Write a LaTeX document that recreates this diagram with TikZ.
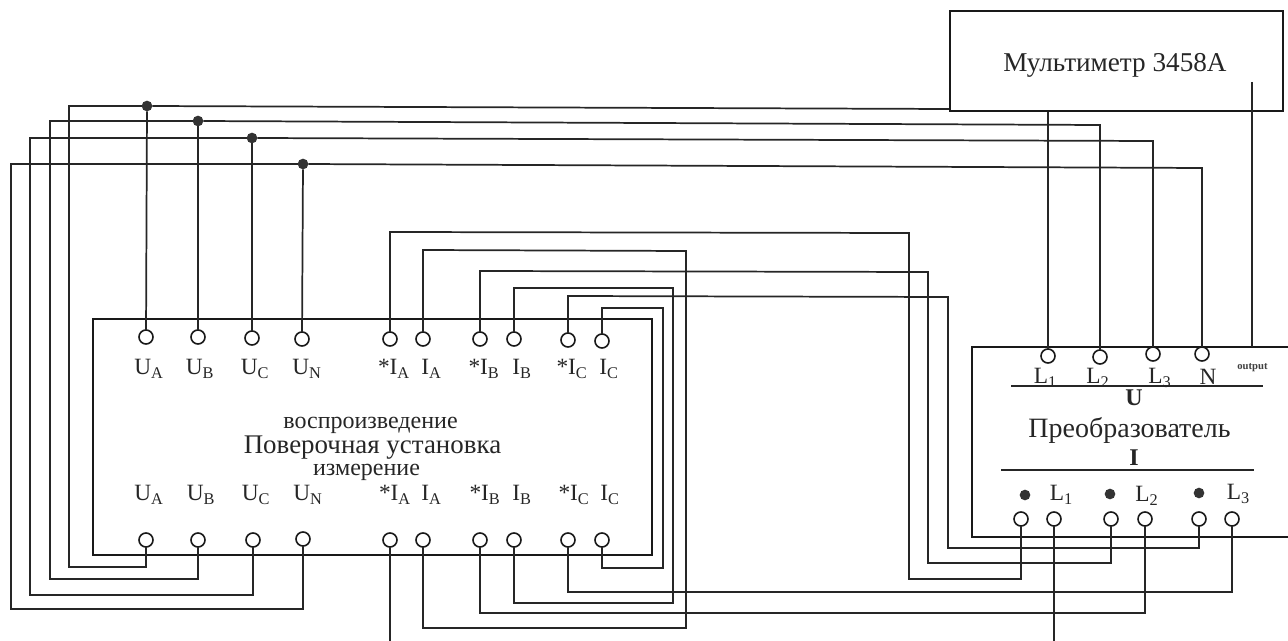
\documentclass[tikz,border=0pt]{standalone}
\usepackage{fontspec}
\setmainfont{Liberation Serif}
\tikzset{
  wire/.style={line width=1.3pt,draw=black!85},
  box/.style={line width=1.7pt,draw=black!90},
  term/.style={circle,draw=black!90,line width=1.2pt,minimum size=10.5pt,inner sep=0pt,outer sep=0pt,fill=white},
  dotj/.style={circle,fill=black!80,minimum size=8pt,inner sep=0pt,outer sep=0pt},
  lab/.style={inner sep=0pt,font=\fontsize{17.5}{19}\selectfont,text=black!85},
}
\newcommand{\Sb}[2]{#1\textsubscript{#2}}
\begin{document}
\begin{tikzpicture}[x=0.75pt,y=-0.75pt]
\useasboundingbox (0,0) rectangle (1288,641);
% boxes
\node[box,draw,minimum width=249.75pt,minimum height=75pt,inner sep=0pt] (mm) at (1116.5,61) {};
\node[lab,font=\fontsize{20.4}{22}\selectfont] (mmt) at (1115,65) {Мультиметр 3458A};
\node[box,draw,minimum width=419pt,minimum height=177.5pt,inner sep=0pt] (main) at (372.5,437) {};
% main terminals top
\foreach \n/\x/\y in {tUA/146/337,tUB/198/337,tUC/252/338,tUN/302/339,tSA/390/339,tIA/423/339,tSB/480/339,tIB/514/339,tSC/568/340,tIC/602/341}
  \node[term] (\n) at (\x,\y) {};
\foreach \n/\x/\y in {bUA/146/540,bUB/198/540,bUC/253/540,bUN/303/539,bSA/390/540,bIA/423/540,bSB/480/540,bIB/514/540,bSC/568/540,bIC/602/540}
  \node[term] (\n) at (\x,\y) {};
% labels
\foreach \n/\x/\t/\s in {lUA/149/U/A,lUB/200/U/B,lUC/255/U/C,lUN/307/U/N,lSA/394/*I/A,lIA/431.5/I/A,lSB/484/*I/B,lIB/522/I/B,lSC/572/*I/C,lIC/609/I/C}
  \node[lab] (\n) at (\x,369) {\Sb{\t}{\s}};
\foreach \n/\x/\t/\s in {mUA/149/U/A,mUB/201/U/B,mUC/256/U/C,mUN/308/U/N,mSA/395/*I/A,mIA/431.5/I/A,mSB/485/*I/B,mIB/522/I/B,mSC/574/*I/C,mIC/610/I/C}
  \node[lab] (\n) at (\x,495) {\Sb{\t}{\s}};
\node[lab,font=\fontsize{18}{20}\selectfont] (t1) at (370.5,425) {воспроизведение};
\node[lab,font=\fontsize{20.2}{22}\selectfont] (t2) at (372.5,448) {Поверочная установка};
\node[lab,font=\fontsize{18}{20}\selectfont] (t3) at (366.5,472) {измерение};
% transducer
\path[box] (1288,347) -- (972,347) -- (972,537) -- (1288,537);
\foreach \n/\x/\y in {pL1/1048/356,pL2/1100/357,pL3/1153/354,pN/1202/354,
  qA/1021/519,qB/1054/519,qC/1111/519,qD/1145/519,qE/1199/519,qF/1232/519}
  \node[term] (\n) at (\x,\y) {};
\node[lab] (uL1) at (1045.5,378) {\Sb{L}{1}};
\node[lab] (uL2) at (1098,378) {\Sb{L}{2}};
\node[lab] (uL3) at (1160,378) {\Sb{L}{3}};
\node[lab] (uN) at (1208,377) {N};
\node[inner sep=0pt,font=\bfseries\fontsize{8}{9}\selectfont,text=black!75] (out) at (1252.5,368) {output};
\draw[wire] (1011,386) -- (1263,386);
\node[lab,font=\bfseries\fontsize{18}{20}\selectfont] (bigU) at (1134,398) {U};
\node[lab,font=\fontsize{21}{23}\selectfont] (conv) at (1129.5,430) {Преобразователь};
\node[lab,font=\bfseries\fontsize{18}{20}\selectfont] (bigI) at (1134,458) {I};
\draw[wire] (1001,470) -- (1254,470);
\node[dotj] (e1) at (1025,495) {};
\node[dotj] (e2) at (1110,494) {};
\node[dotj] (e3) at (1199,493) {};
\node[lab] (iL1) at (1061.5,495) {\Sb{L}{1}};
\node[lab] (iL2) at (1147,496) {\Sb{L}{2}};
\node[lab] (iL3) at (1238.5,494) {\Sb{L}{3}};
% junctions
\node[dotj] (dA) at (147,106) {};
\node[dotj] (dB) at (198,121) {};
\node[dotj] (dC) at (252,138) {};
\node[dotj] (dN) at (303,164) {};
% voltage wires
\foreach \d/\tp in {dA/tUA,dB/tUB,dC/tUC,dN/tUN} \draw[wire] (\d) -- (\tp);
\draw[wire] (bUA) -- (bUA |- 0,567) -- (69,567) -- (69,106) -- (dA);
\draw[wire] (bUB) -- (bUB |- 0,579) -- (50,579) -- (50,121) -- (dB);
\draw[wire] (bUC) -- (bUC |- 0,595) -- (30,595) -- (30,138) -- (dC);
\draw[wire] (bUN) -- (bUN |- 0,609) -- (11,609) -- (11,164) -- (dN);
\draw[wire] (dA) -- (mm.west |- 0,109);
\draw[wire] (mm.south -| pL1) -- (pL1);
\draw[wire] (dB) -- (pL2 |- 0,125) -- (pL2);
\draw[wire] (dC) -- (pL3 |- 0,141) -- (pL3);
\draw[wire] (dN) -- (pN |- 0,168) -- (pN);
\coordinate (outTop) at (1252,82);
\coordinate (outEnd) at (1252,347);
\draw[wire] (outTop) -- (outEnd);
% current wires
\draw[wire] (tSA) -- (tSA |- 0,232) -- (909,233) -- (909,579) -- (qA |- 0,579) -- (qA);
\draw[wire] (tIA) -- (tIA |- 0,250) -- (686,251) -- (686,628) -- (bIA |- 0,628) -- (bIA);
\draw[wire] (tSB) -- (tSB |- 0,271) -- (928,272) -- (928,563) -- (qC |- 0,563) -- (qC);
\draw[wire] (tIB) -- (tIB |- 0,288) -- (673,288) -- (673,603) -- (bIB |- 0,603) -- (bIB);
\draw[wire] (tSC) -- (tSC |- 0,296) -- (948,297) -- (948,548) -- (qE |- 0,548) -- (qE);
\draw[wire] (tIC) -- (tIC |- 0,308) -- (663,308) -- (663,568) -- (bIC |- 0,568) -- (bIC);
\draw[wire] (bSB) -- (bSB |- 0,613) -- (qD |- 0,613) -- (qD);
\draw[wire] (bSC) -- (bSC |- 0,592) -- (qF |- 0,592) -- (qF);
\coordinate (freeA) at (390,641);
\coordinate (freeB) at (1054,641);
\draw[wire] (bSA) -- (freeA);
\draw[wire] (qB) -- (freeB);
\end{tikzpicture}
\end{document}
